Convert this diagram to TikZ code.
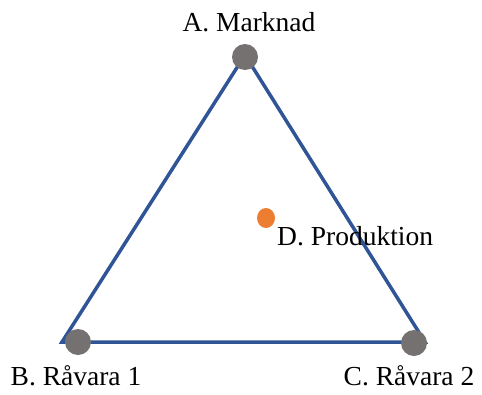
\documentclass[tikz,border=0pt]{standalone}
\usepackage{fontspec}
\setmainfont{Liberation Serif}
\usepackage{tikz}
\usetikzlibrary{positioning,shapes.geometric}
\definecolor{kantbla}{HTML}{2F5597}
\definecolor{horngra}{HTML}{767171}
\definecolor{orange}{HTML}{ED7D31}

\begin{document}
\begin{tikzpicture}[x=1pt, y=-1pt,
      horn/.style={circle, fill=horngra, minimum size=26pt, inner sep=0pt},
      etikett/.style={font=\fontsize{27.5}{33}\selectfont, inner sep=0pt, anchor=base}]
    \useasboundingbox (0,0) rectangle (482,394);
    % triangelns hoern
    \coordinate (tA) at (245,55);
    \coordinate (tB) at (62,342);
    \coordinate (tC) at (425,342);
    \draw[kantbla, line width=3.5pt, line join=miter] (tA) -- (tB) -- (tC) -- cycle;
    \node[horn] (vA) at (245,57) {};
    \node[horn] (vB) at (78,342) {};
    \node[horn] (vC) at (414,343) {};
    \node[ellipse, fill=orange, minimum width=18pt, minimum height=20pt, inner sep=0pt] (vD) at (266,218) {};
    \node[etikett] (lblA) at (249,31) {A. Marknad};
    \node[etikett] (lblB) at (76,385) {B. Råvara 1};
    \node[etikett] (lblC) at (409,385) {C. Råvara 2};
    \node[etikett, anchor=base west] (lblD) at (277,245) {D. Produktion};
  \end{tikzpicture}
\end{document}
